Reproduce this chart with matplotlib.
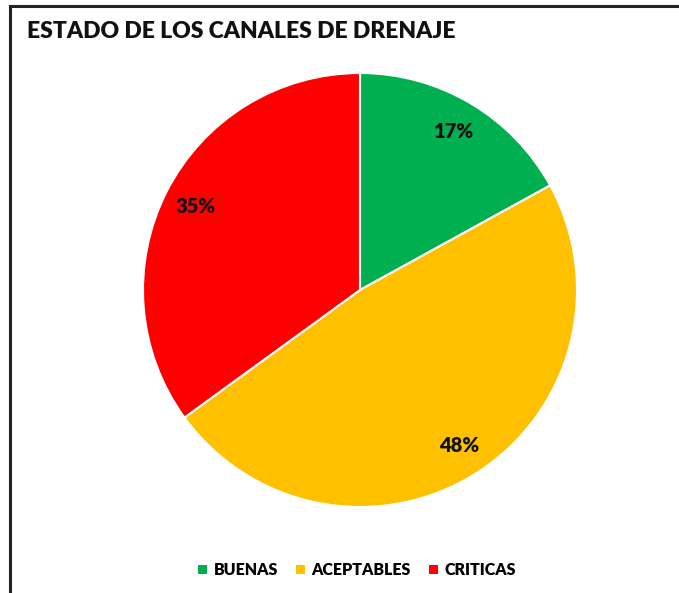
import matplotlib
matplotlib.use("Agg")
from matplotlib import pyplot as plt
from matplotlib.lines import Line2D
from matplotlib.patches import Patch

plt.rcParams['font.family'] = ['Lato', 'DejaVu Sans']

labels = ['BUENAS', 'ACEPTABLES', 'CRITICAS']
values = [17, 48, 35]
colors = ['#00B050', '#FFC000', '#FF0000']
title = 'ESTADO DE LOS CANALES DE DRENAJE'

fig = plt.figure(figsize=(6.79, 5.93), dpi=100)
W, H = 679, 593

# frame lines (left and top only)
fig.add_artist(Line2D([10/W, 10/W], [0, 1-6/H], color='#222222', lw=2.2))
fig.add_artist(Line2D([10/W, 1], [1-6/H, 1-6/H], color='#222222', lw=2.2))

fig.text(27/W, 1-31/H, title, fontsize=16.5, fontweight='heavy', va='center', ha='left', color='#111111')

cx, cy, r = 360, 290, 217
ax = fig.add_axes([(cx-r)/W, 1-(cy+r)/H, 2*r/W, 2*r/H])
wedges, texts, autotexts = ax.pie(values, colors=colors, startangle=90, counterclock=False,
                                  autopct='%1.0f%%', pctdistance=0.85, radius=1,
                                  wedgeprops=dict(edgecolor='white', linewidth=1.5),
                                  textprops=dict(fontsize=14.5, fontweight='heavy', color='#111111'))
ax.set_xlim(-1, 1)
ax.set_ylim(-1, 1)
ax.set_aspect('equal')
ax.axis('off')

handles = [Patch(facecolor=c, edgecolor='none') for c in colors]
fig.legend(handles, labels, loc='center', bbox_to_anchor=(357/W, 1-570/H), ncol=3, frameon=False,
           prop=dict(size=11.5, weight='heavy'), handlelength=0.55, handleheight=0.55,
           handletextpad=0.4, columnspacing=1.15)

fig.savefig('out.png', dpi=100)
